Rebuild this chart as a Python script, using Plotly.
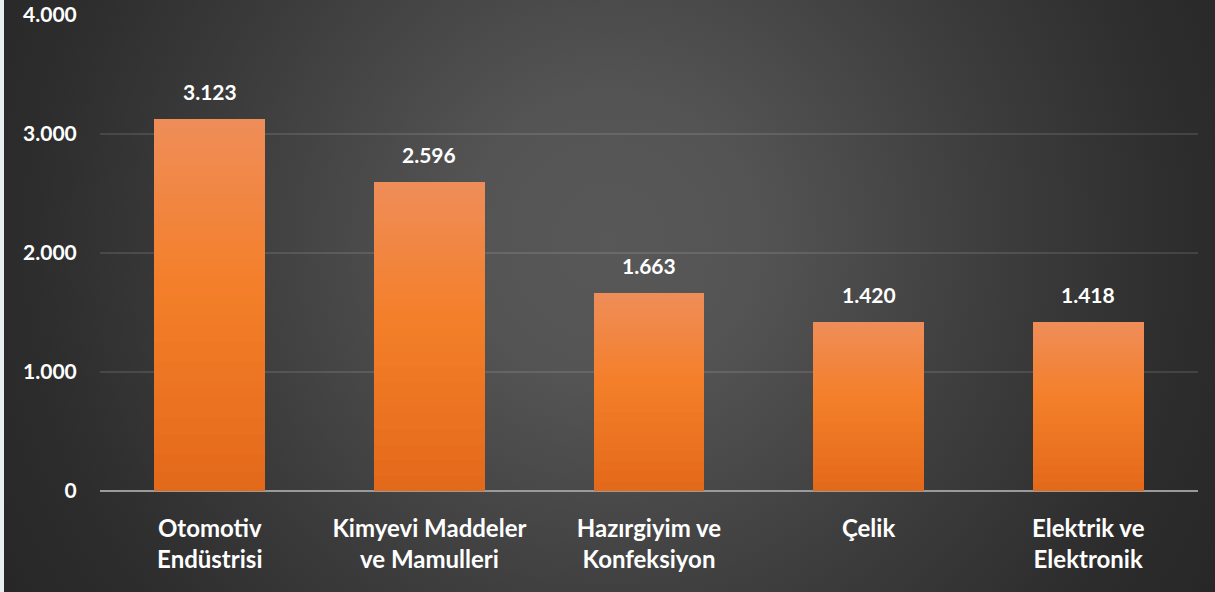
import base64
import plotly.graph_objects as go

categories = ["Otomotiv<br>Endüstrisi", "Kimyevi Maddeler<br>ve Mamulleri",
              "Hazırgiyim ve<br>Konfeksiyon", "Çelik", "Elektrik ve<br>Elektronik"]
values = [3123, 2596, 1663, 1420, 1418]
y_ticks = [0, 1000, 2000, 3000, 4000]


def fmt(v):
    return f"{v:,}".replace(",", ".")


W, H = 1215, 592
L, R, T, B = 100, 17, 15, 101
pw, ph = W - L - R, H - T - B

# background radial gradient (svg data uri)
svg = f'''<svg xmlns="http://www.w3.org/2000/svg" width="{W}" height="{H}" viewBox="0 0 {W} {H}" preserveAspectRatio="none">
<defs><radialGradient id="g" gradientUnits="userSpaceOnUse" cx="610" cy="240" r="720">
<stop offset="0" stop-color="#585858"/>
<stop offset="0.2" stop-color="#545454"/>
<stop offset="0.55" stop-color="#3c3c3c"/>
<stop offset="0.8" stop-color="#2d2d2d"/>
<stop offset="1" stop-color="#262626"/>
</radialGradient></defs>
<rect x="0" y="0" width="{W}" height="{H}" fill="url(#g)"/>
<rect x="0" y="0" width="4" height="{H}" fill="#e8eff0"/>
</svg>'''
uri = "data:image/svg+xml;base64," + base64.b64encode(svg.encode()).decode()


def hex2rgb(h):
    h = h.lstrip("#")
    return [int(h[i:i + 2], 16) for i in (0, 2, 4)]


stops = [(0.0, "#E3691A"), (0.55, "#F47F29"), (1.0, "#EF8D59")]


def color_at(t):
    for (t0, c0), (t1, c1) in zip(stops[:-1], stops[1:]):
        if t <= t1:
            a, b = hex2rgb(c0), hex2rgb(c1)
            f = (t - t0) / (t1 - t0)
            return "rgb(%d,%d,%d)" % tuple(round(a[i] + (b[i] - a[i]) * f) for i in range(3))
    return stops[-1][1]


N = 40
fig = go.Figure()
for k in range(N):
    t = (k + 0.5) / N
    fig.add_trace(go.Bar(
        x=categories, y=[v / N for v in values], width=0.505,
        marker=dict(color=color_at(t), line=dict(width=0)),
        showlegend=False, hoverinfo="skip"))

for c, v in zip(categories, values):
    fig.add_annotation(x=c, y=v, text=fmt(v), showarrow=False, yanchor="bottom",
                       yshift=13, font=dict(family="Lato", size=21, color="white", weight="bold"))

fig.add_layout_image(dict(source=uri, xref="paper", yref="paper",
                          x=-L / pw, y=1 + T / ph, sizex=W / pw, sizey=H / ph,
                          xanchor="left", yanchor="top", sizing="stretch", layer="below"))

fig.update_layout(
    width=W, height=H, barmode="stack", bargap=0,
    margin=dict(l=L, r=R, t=T, b=B, autoexpand=False),
    paper_bgcolor="#2e2e2e", plot_bgcolor="rgba(0,0,0,0)",
    separators=",.",
    font=dict(family="Lato", size=21, color="white", weight="bold"),
    xaxis=dict(showgrid=False, ticks="outside", ticklen=16, tickcolor="rgba(0,0,0,0)",
               tickfont=dict(family="Lato", size=24, color="white", weight="bold"),
               showline=False, zeroline=False, automargin=False),
    yaxis=dict(range=[0, 4000], tickvals=y_ticks, ticktext=[fmt(v) for v in y_ticks],
               showgrid=True, gridcolor="rgba(255,255,255,0.11)", gridwidth=1.5,
               zeroline=True, zerolinecolor="#9a9a9a", zerolinewidth=2,
               ticks="outside", ticklen=18, tickcolor="rgba(0,0,0,0)",
               tickfont=dict(family="Lato", size=21, color="white", weight="bold"),
               showline=False, automargin=False),
)

fig.write_html("out.html", config={"displayModeBar": False},
               post_script="document.body.style.margin='0';")
